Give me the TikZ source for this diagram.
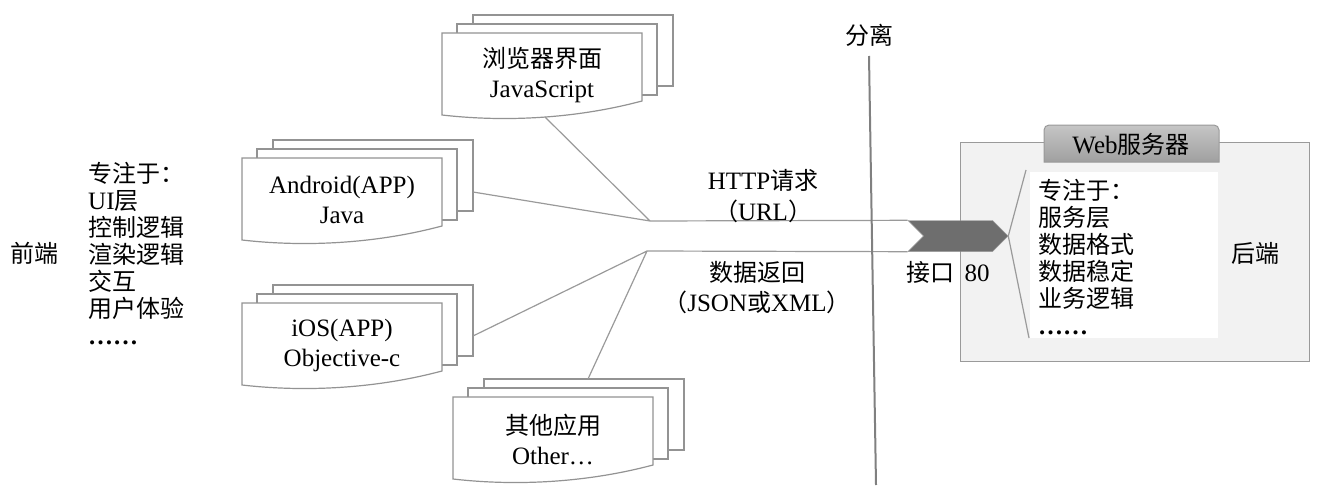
\documentclass[tikz,border=0pt]{standalone}
\usepackage{fontspec}
\setmainfont{Liberation Serif}
\newfontfamily\cjk{Noto Sans CJK SC}[Scale=0.96]
\usetikzlibrary{shapes.symbols}
\definecolor{linegray}{HTML}{9A9A9A}
\definecolor{boxgray}{HTML}{F2F2F2}
\definecolor{portgray}{HTML}{6E6E6E}
\tikzset{
    docpage/.style={draw=gray!85,fill=white,line width=1.2pt},
    doctext/.style={align=center,font=\fontsize{25}{30}\selectfont},
    link/.style={draw=linegray,line width=1.2pt},
    sepline/.style={draw=gray,line width=2pt},
    listtext/.style={align=left,anchor=west,inner sep=0pt,font=\cjk\fontsize{25}{27}\selectfont},
    serverbox/.style={draw=linegray,fill=boxgray,line width=1pt},
    tabshade/.style={top color=gray!45,bottom color=gray!75,draw=gray!80,line width=1pt},
    portbox/.style={signal,signal to=east,signal from=west,minimum width=100pt,
        minimum height=31pt,inner sep=0pt,fill=portgray,draw=gray!80}
}
% stack of pages: name, left, top, first line, second line
\newcommand{\docstack}[5]{%
  \draw[docpage] (#2+31,#3-18) rectangle ++(200,71);
  \draw[docpage] (#2+15,#3-9) rectangle ++(200,71);
  \draw[docpage] (#2,#3) -- (#2+200,#3) -- (#2+200,#3+68)
    .. controls (#2+140,#3+84) and (#2+70,#3+90) .. (#2,#3+82) -- cycle;
  \node[doctext] (#1) at (#2+100,#3+42) {{#4}\\{#5}};
}
\newcommand{\moredots}{{\rmfamily\bfseries ……}}
\begin{document}
\begin{tikzpicture}[x=1pt,y=-1pt,font=\fontsize{25}{27}\selectfont]
\useasboundingbox (0,0) rectangle (1321,500);
% front end
\node (front) at (34,253) {\cjk 前端};
\node[listtext] (frontlist) at (88,254) {专注于：\\{\rmfamily UI}层\\控制逻辑\\渲染逻辑\\交互\\用户体验\\\moredots};
\docstack{browser}{442}{33}{\cjk 浏览器界面}{JavaScript}
\docstack{android}{242}{158}{Android(APP)}{Java}
\docstack{ios}{242}{303}{iOS(APP)}{Objective-c}
\docstack{other}{453}{397}{\cjk 其他应用}{Other…}
% back end
\draw[serverbox] (960,142) rectangle (1309,361);
\shade[tabshade] (1044,162) -- (1044,130) arc[start angle=180,end angle=270,radius=5]
    -- (1214,125) arc[start angle=270,end angle=360,radius=5] -- (1219,162) -- cycle;
\node (webtab) at (1131,144) {Web{\cjk 服务器}};
\fill[white] (1030,172) rectangle (1218,338);
\node[portbox] (port) at (958,236) {};
\coordinate (bk-top) at (1026,170);
\coordinate (bk-bot) at (1029,338);
\draw[link] (bk-top) -- (port.east) -- (bk-bot);
\node[listtext] (backlist) at (1038,257) {专注于：\\服务层\\数据格式\\数据稳定\\业务逻辑\\\moredots};
\node (back) at (1255,253) {\cjk 后端};
% connectors
\coordinate (req) at (650,221);
\coordinate (resp) at (647,251);
\coordinate (browser-out) at (545,117);
\coordinate (android-out) at (473,192);
\coordinate (ios-out) at (473,336);
\coordinate (other-out) at (588,379);
\draw[link] (browser-out) -- (req) (android-out) -- (req);
\draw[link] (ios-out) -- (resp) (other-out) -- (resp);
\draw[link] (req) -- (port.north west);
\draw[link] (resp) -- (port.south west);
\node (http) at (763,180) {HTTP{\cjk 请求}};
\node (url) at (763,211) {{\cjk （}URL{\cjk ）}};
\node (data) at (757,272) {\cjk 数据返回};
\node (fmt) at (757,302) {{\cjk （}JSON{\cjk 或}XML{\cjk ）}};
\node (portlabel) at (930,272) {\cjk 接口};
\node (portnum) at (977,273) {80};
% split
\node (split) at (869,35) {\cjk 分离};
\coordinate (sep-top) at (869,56);
\coordinate (sep-bot) at (876,485);
\draw[sepline] (sep-top) -- (sep-bot);
\end{tikzpicture}
\end{document}
